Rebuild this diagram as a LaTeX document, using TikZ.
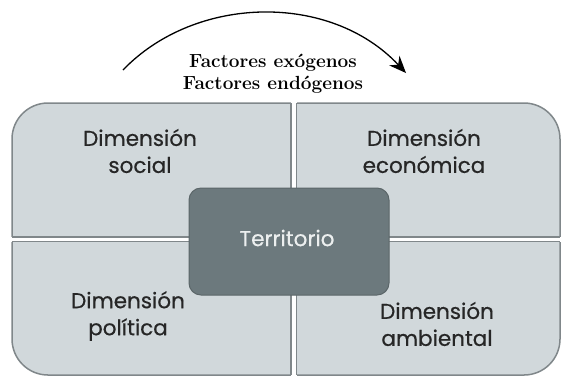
\documentclass[tikz,border=0pt]{standalone}
\usepackage{fontspec}
\usepackage{xcolor}
\usepackage{tikz}
\usetikzlibrary{arrows.meta,positioning}
\newfontfamily\dimfont[FakeBold=0.5]{Poppins}

\definecolor{quadfill}{HTML}{D1D8DB}
\definecolor{quadline}{HTML}{80878A}
\definecolor{terrfill}{HTML}{6C797D}
\definecolor{terrline}{HTML}{5B6669}
\definecolor{terrtext}{HTML}{ECEFEF}

\tikzset{
    dimlabel/.style={align=center, font=\dimfont\fontsize{21.5}{27}\selectfont, text=black!85},
    gapline/.style={line width=1.2pt, quadline},
}

\begin{document}
\begin{tikzpicture}[x=1pt, y=-1pt]
                \useasboundingbox (0,0) rectangle (561,376);

                % outer block
                \draw[
                    line width=1.5pt,
                    rounded corners=36pt,
                    fill=quadfill,
                    draw=quadline
                    ] (12,103) rectangle (560,375);

                % white gaps between the four dimensions
                \fill[white] (291,100) rectangle (296.5,378);
                \fill[white] (9,237) rectangle (563,241.5);
                \draw[gapline] (291,103) -- (291,237);
                \draw[gapline] (296.5,103) -- (296.5,237);
                \draw[gapline] (291,241.5) -- (291,375);
                \draw[gapline] (296.5,241.5) -- (296.5,375);
                \draw[gapline] (12,237) -- (291,237);
                \draw[gapline] (12,241.5) -- (291,241.5);
                \draw[gapline] (296.5,237) -- (560,237);
                \draw[gapline] (296.5,241.5) -- (560,241.5);

                % centre
                \draw[
                    line width=1pt,
                    rounded corners=12pt,
                    fill=terrfill,
                    draw=terrline
                    ] (189,188) rectangle (389,295);
                \node[dimlabel, text=terrtext] (territorio) at (287,238) {Territorio};

                \node[dimlabel] (social) at (140,151) {Dimensión\\social};
                \node[dimlabel] (economica) at (424,151) {Dimensión\\económica};
                \node[dimlabel] (politica) at (128,316) {Dimensión\\política};
                \node[dimlabel] (ambiental) at (437,324) {Dimensión\\ambiental};

                % factors and arrow
                \node[align=center, font=\bfseries\fontsize{19}{22}\selectfont] (factores) at (273,74)
                    {Factores exógenos\\Factores endógenos};
                \coordinate (arcstart) at (123,70);
                \coordinate (arcend) at (406,73);
                \draw[
                    line width=1.3pt,
                    -{Stealth[length=17pt,width=14pt]}
                    ] (arcstart) .. controls (195,-5) and (330,-8) .. (arcend);

             \end{tikzpicture}
\end{document}
